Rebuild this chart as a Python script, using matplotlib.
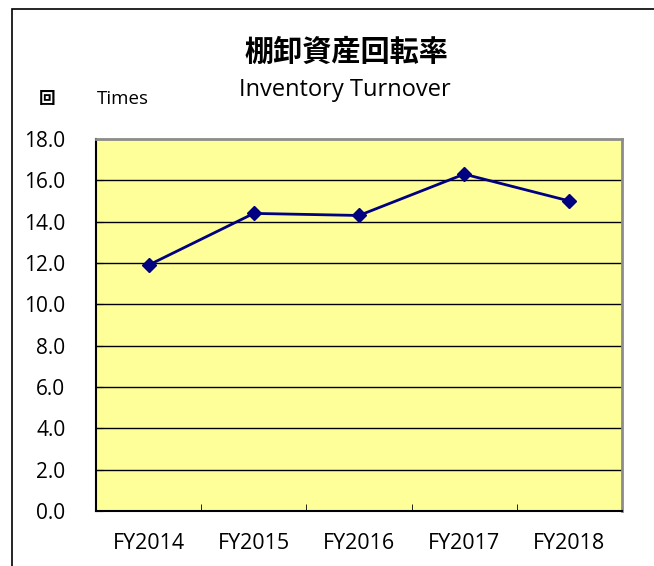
import matplotlib
matplotlib.use("Agg")
import matplotlib.pyplot as plt
from matplotlib.patches import Rectangle
import numpy as np

plt.rcParams['font.family'] = ['Open Sans', 'Noto Sans CJK JP', 'DejaVu Sans']

categories = ["FY2014", "FY2015", "FY2016", "FY2017", "FY2018"]
values = [11.9, 14.4, 14.3, 16.3, 15.0]
yticks = [0, 2, 4, 6, 8, 10, 12, 14, 16, 18]

W, H = 654, 566
fig = plt.figure(figsize=(W/100, H/100), dpi=100)

# outer frame
fig.patches.append(Rectangle((12/W, -0.1), 1.2, 1 - 9/H + 0.1, transform=fig.transFigure,
                             fill=False, edgecolor='black', linewidth=1.2))

ax = fig.add_axes([96/W, (H-511)/H, (622-96)/W, (511-139)/H])
ax.set_facecolor('#FFFF99')
x = np.arange(len(categories))
ax.set_xlim(-0.5, len(categories) - 0.5)
ax.set_ylim(0, 18)
ax.set_yticks(yticks)
ax.set_yticklabels([f"{v:.1f}" for v in yticks], fontsize=15)
for v in yticks[1:-1]:
    ax.axhline(v, color='black', linewidth=1.0, zorder=1)
ax.plot(x, values, color='#000080', linewidth=2, marker='D', markersize=7, zorder=3)

ax.set_xticks(x)
ax.set_xticklabels(categories, fontsize=15.5)
ax.tick_params(axis='x', length=0, pad=16)
ax.set_xticks(np.arange(0.5, len(categories) - 1, 1), minor=True)
ax.tick_params(axis='x', which='minor', direction='in', length=5, color='black')
ax.tick_params(axis='y', length=5, direction='in', color='black', pad=22)

for s in ['top', 'right']:
    ax.spines[s].set_color('#8c8c8c')
    ax.spines[s].set_linewidth(2)
ax.spines['left'].set_color('black')
ax.spines['left'].set_linewidth(1.5)
ax.spines['bottom'].set_color('black')
ax.spines['bottom'].set_linewidth(1.5)

fig.text(346/W, 1 - 52/H, "棚卸資産回転率", fontsize=21, fontweight='bold', ha='center', va='center',
         family=['Noto Sans CJK JP'])
fig.text(345/W, 1 - 90/H, "Inventory Turnover", fontsize=17, ha='center', va='center')
fig.text(47/W, 1 - 99/H, "回", fontsize=12, fontweight='bold', ha='center', va='center',
         family=['Noto Sans CJK JP'])
fig.text(97/W, 1 - 99/H, "Times", fontsize=13.5, ha='left', va='center')

fig.savefig("out.png", dpi=100)
